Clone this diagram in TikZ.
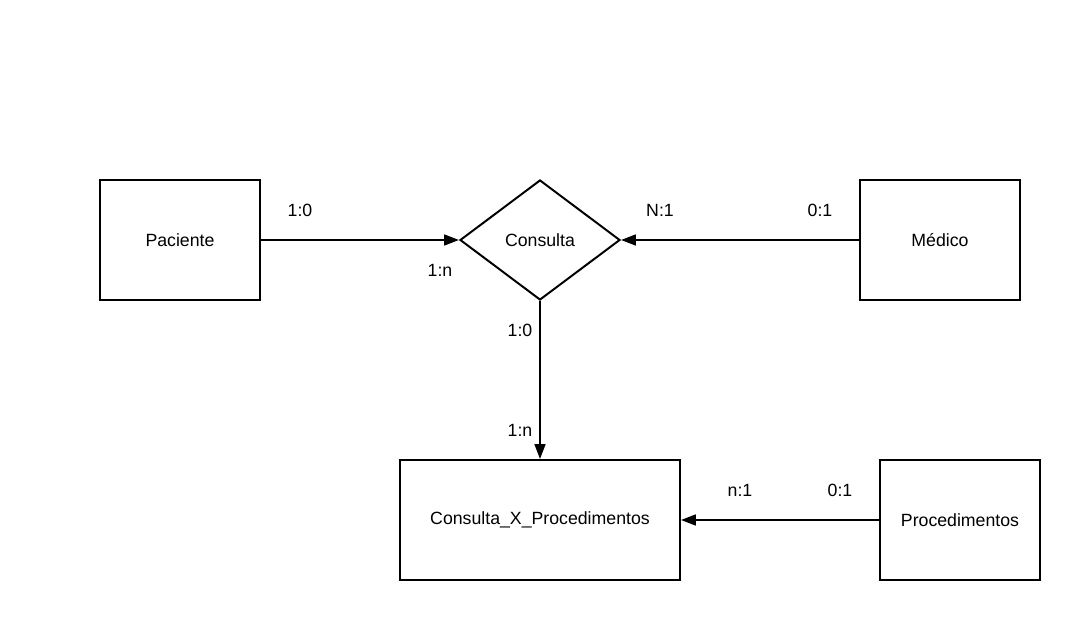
\documentclass[tikz,border=0pt]{standalone}
\usepackage{fontspec}
\setmainfont{Liberation Sans}
\usetikzlibrary{shapes.geometric,arrows.meta}

\begin{document}
\begin{tikzpicture}[
        entity/.style={draw,line width=1.4pt,minimum width=4cm,minimum height=3cm,inner sep=0pt},
        relation/.style={draw,diamond,aspect=1.333,line width=1.4pt,minimum width=4cm,minimum height=3cm,inner sep=0pt},
        link/.style={line width=1.4pt,-{Triangle[length=0.37cm,width=0.27cm]}},
        card/.style={inner sep=0pt},
        font=\fontsize{12.6}{15}\selectfont
    ]
        \useasboundingbox (0,0) rectangle (27,15.5);

        % --- Draw entities and relation ---
        \node[entity] (paciente) at (4.5,9.5) {Paciente};
        \node[relation] (consulta) at (13.5,9.5) {Consulta};
        \node[entity] (medico) at (23.5,9.5) {Médico};
        \node[entity,minimum width=7cm] (cxp) at (13.5,2.5) {Consulta\_X\_Procedimentos};
        \node[entity] (proced) at (24,2.5) {Procedimentos};
        % ---

        % --- Draw connectors ---
        \draw[link] (paciente) -- (consulta);
        \draw[link] (medico) -- (consulta);
        \draw[link] (consulta) -- (cxp);
        \draw[link] (proced) -- (cxp);
        % ---

        % --- Cardinalities ---
        \node[card] (c1) at (7.5,10.25) {1:0};
        \node[card] (c2) at (11,8.75) {1:n};
        \node[card] (c3) at (16.5,10.25) {N:1};
        \node[card] (c4) at (20.5,10.25) {0:1};
        \node[card] (c5) at (13,7.25) {1:0};
        \node[card] (c6) at (13,4.75) {1:n};
        \node[card] (c7) at (18.5,3.25) {n:1};
        \node[card] (c8) at (21,3.25) {0:1};
        % ---
    \end{tikzpicture}
\end{document}
